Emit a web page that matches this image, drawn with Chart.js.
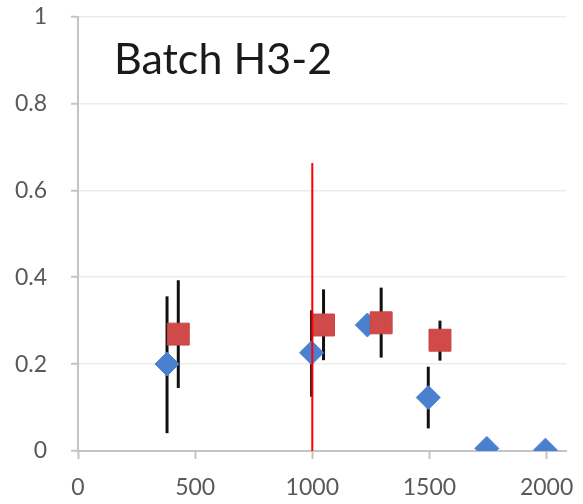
<!DOCTYPE html>
<html>
<head>
<meta charset="utf-8">
<script src="https://cdn.jsdelivr.net/npm/chart.js@4"></script>
<style>
  body { margin: 0; background: #fff; }
  #wrap { width: 583px; height: 504px; }
</style>
</head>
<body>
<div id="wrap"><canvas id="myChart"></canvas></div>
<script>
const chartTitle = "Batch H3-2"

// blue diamonds
const blueX = [380, 997, 1235, 1495, 1745, 1995]
const blueY = [0.200, 0.226, 0.290, 0.123, 0.006, 0.002]
const blueLow = [0.041, 0.125, null, 0.052, null, null]
const blueHigh = [0.356, 0.324, null, 0.194, null, null]

// red squares
const redX = [428, 1048, 1294, 1545]
const redY = [0.269, 0.290, 0.295, 0.255]
const redLow = [0.145, 0.209, 0.215, 0.208]
const redHigh = [0.393, 0.372, 0.376, 0.300]

// red vertical marker line
const lineX = [1000, 1000]
const lineY = [0, 0.663]

const xTicks = [0, 500, 1000, 1500, 2000]
const yTicks = [0, 0.2, 0.4, 0.6, 0.8, 1]

const toPoints = (xs, ys) => xs.map((x, i) => ({x: x, y: ys[i]}))

const errorBars = {
  id: 'errorBars',
  beforeDatasetsDraw(chart) {
    const ctx = chart.ctx
    const xs = chart.scales.x, ys = chart.scales.y
    const sets = [[blueX, blueLow, blueHigh], [redX, redLow, redHigh]]
    ctx.save()
    ctx.strokeStyle = '#111'
    ctx.lineWidth = 3
    sets.forEach(([px, lo, hi]) => {
      px.forEach((x, i) => {
        if (lo[i] == null) return
        const xp = xs.getPixelForValue(x)
        ctx.beginPath()
        ctx.moveTo(xp, ys.getPixelForValue(lo[i]))
        ctx.lineTo(xp, ys.getPixelForValue(hi[i]))
        ctx.stroke()
      })
    })
    ctx.restore()
  }
}

const titleText = {
  id: 'titleText',
  afterDraw(chart) {
    const ctx = chart.ctx
    ctx.save()
    ctx.font = '43px Lato'
    ctx.fillStyle = '#1a1a1a'
    ctx.textBaseline = 'alphabetic'
    ctx.fillText(chartTitle, 114, 74)
    ctx.restore()
  }
}

const ctx = document.getElementById('myChart').getContext('2d')
const chart = new Chart(ctx, {
  type: 'scatter',
  data: {
    datasets: [
      {
        type: 'line',
        data: toPoints(lineX, lineY),
        borderColor: '#ff0000',
        borderWidth: 2,
        pointRadius: 0,
        showLine: true,
        order: 0
      },
      {
        data: toPoints(redX, redY),
        pointStyle: 'rect',
        pointRadius: 15.5,
        backgroundColor: '#d14a4a',
        borderColor: '#c84444',
        borderWidth: 1,
        order: 1
      },
      {
        data: toPoints(blueX, blueY),
        pointStyle: 'rectRot',
        pointRadius: 12,
        backgroundColor: '#4a80cf',
        borderColor: '#4a80cf',
        borderWidth: 1,
        order: 2
      }
    ]
  },
  options: {
    animation: false,
    responsive: true,
    maintainAspectRatio: false,
    layout: { padding: { top: 15, right: 7, left: 0, bottom: 0 } },
    plugins: { legend: { display: false }, tooltip: { enabled: false } },
    scales: {
      x: {
        type: 'linear',
        min: 0,
        max: 2085,
        afterBuildTicks: (scale) => { scale.ticks = xTicks.map(v => ({value: v})) },
        afterFit: (scale) => { scale.height = 53; scale.paddingLeft = 0; scale.paddingRight = 0 },
        border: { color: '#c4c4c4', width: 2 },
        grid: { drawOnChartArea: false, drawTicks: true, tickLength: 8, tickColor: '#c4c4c4', tickWidth: 2 },
        ticks: { font: { family: 'Lato', size: 23 }, color: '#595959', padding: 15, maxRotation: 0, callback: v => String(v) }
      },
      y: {
        min: 0,
        max: 1,
        afterBuildTicks: (scale) => { scale.ticks = yTicks.map(v => ({value: v})) },
        afterFit: (scale) => { scale.width = 78; scale.paddingTop = 0; scale.paddingBottom = 0 },
        border: { color: '#c4c4c4', width: 2 },
        grid: { color: '#ececec', lineWidth: 1.5, tickLength: 7, tickColor: '#c4c4c4', tickWidth: 2 },
        ticks: { font: { family: 'Lato', size: 23 }, color: '#595959', padding: 24, callback: v => String(v) }
      }
    }
  },
  plugins: [errorBars, titleText]
})
</script>
</body>
</html>
